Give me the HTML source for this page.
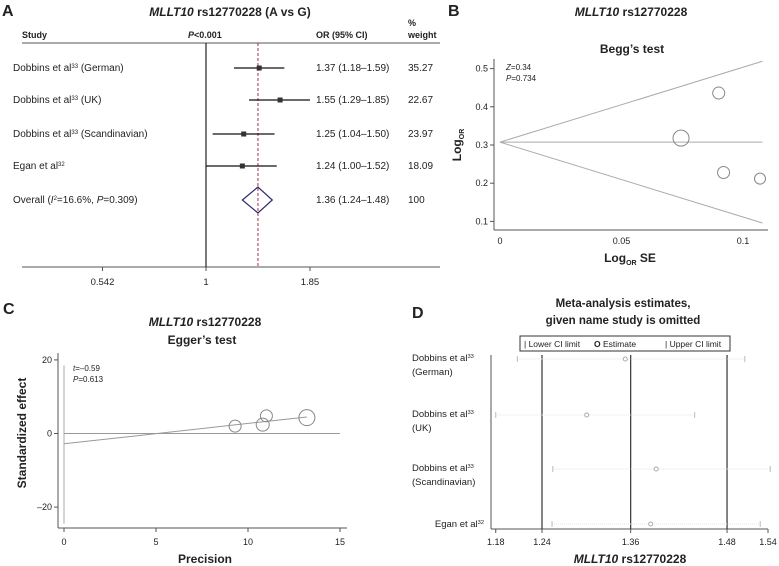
<!DOCTYPE html>
<html><head><meta charset="utf-8"><style>
body{margin:0;background:#fff}
svg{display:block;font-family:"Liberation Sans",Arial,sans-serif}
</style></head><body>
<svg id="fig" width="779" height="566" viewBox="0 0 779 566">
<g font-size="9" fill="#222">
<text x="2" y="16" font-size="16" font-weight="bold">A</text>
<text x="230" y="16" font-size="12" font-weight="bold" text-anchor="middle"><tspan font-style="italic">MLLT10</tspan> rs12770228 (A vs G)</text>
<text x="22" y="38" font-weight="bold">Study</text>
<text x="188" y="38" font-weight="bold"><tspan font-style="italic">P</tspan>&lt;0.001</text>
<text x="316" y="38" font-weight="bold">OR (95% CI)</text>
<text x="408" y="26" font-weight="bold">%</text>
<text x="408" y="38" font-weight="bold">weight</text>
<line x1="22" y1="43" x2="440" y2="43" stroke="#555"/>
<line x1="22" y1="267" x2="440" y2="267" stroke="#555"/>
</g>
<g id="gA"></g>
<g id="gB"></g>
<g id="gC"></g>
<g id="gD"></g>
</svg>
<script>
const studiesA = ["Dobbins et al|33| (German)","Dobbins et al|33| (UK)","Dobbins et al|33| (Scandinavian)","Egan et al|32|"];
const orA = [1.37,1.55,1.25,1.24];
const loA = [1.18,1.29,1.04,1.00];
const hiA = [1.59,1.85,1.50,1.52];
const weightA = ["35.27","22.67","23.97","18.09"];
const overallA = [1.36,1.24,1.48];
const ticksA = [0.542,1,1.85];

const beggSE = [0.090,0.0745,0.092,0.107];
const beggLogOR = [0.436,0.318,0.228,0.212];
const beggR = [6,8,6,5.5];
const beggPooled = 0.3075;
const beggXTicks = [0,0.05,0.1];
const beggYTicks = [0.1,0.2,0.3,0.4,0.5];

const eggPrec = [9.3,10.8,11.0,13.2];
const eggEff = [2.0,2.4,4.8,4.3];
const eggR = [6,6.5,6,8];
const eggLine = [-2.8,0.553];
const eggXTicks = [0,5,10,15];
const eggYTicks = [-20,0,20];

const studiesD = ["Dobbins et al|33|\n(German)","Dobbins et al|33|\n(UK)","Dobbins et al|33|\n(Scandinavian)","Egan et al|32|"];
const estD = [1.348,1.298,1.388,1.381];
const loD = [1.208,1.18,1.254,1.253];
const hiD = [1.503,1.438,1.536,1.523];
const overallD = [1.24,1.355,1.48];
const ticksD = [1.18,1.24,1.36,1.48,1.54];

const NS="http://www.w3.org/2000/svg";
function mk(parent,tag,attrs){const e=document.createElementNS(NS,tag);for(const k in attrs)e.setAttribute(k,attrs[k]);parent.appendChild(e);return e;}
function label(el,str,size){
  const parts=str.split("|");
  parts.forEach((p,i)=>{const t=document.createElementNS(NS,"tspan");t.textContent=p;
    if(i%2===1){t.setAttribute("font-size",size*0.6);t.setAttribute("dy",-3);}
    else if(i>0){t.setAttribute("dy",3);}
    el.appendChild(t);});
}
const FA=10;
const gA=document.getElementById("gA");
const xA=v=>206+169*Math.log(v);
const rowY=[68,100,134,166,200];
let e;
e=mk(gA,"line",{x1:206,y1:43,x2:206,y2:267,stroke:"#222","stroke-width":1.2});


e=mk(gA,"line",{x1:xA(overallA[0]),y1:43,x2:xA(overallA[0]),y2:267,stroke:"#a0304a","stroke-dasharray":"3,2"});


ticksA.forEach(t=>{
  e=mk(gA,"line",{x1:xA(t),y1:267,x2:xA(t),y2:271,stroke:"#555"});
  
  
  e=mk(gA,"text",{x:xA(t),y:285,"font-size":9.5,"text-anchor":"middle",fill:"#222"});e.textContent=String(t);
  
  
});
studiesA.forEach((s,i)=>{
  const y=rowY[i];
  e=mk(gA,"text",{x:13,y:y+3,"font-size":FA,fill:"#222"});label(e,s,FA);
  
  
  e=mk(gA,"line",{x1:xA(loA[i]),y1:y,x2:xA(hiA[i]),y2:y,stroke:"#111","stroke-width":1.3});
  
  
  e=mk(gA,"rect",{x:xA(orA[i])-2.5,y:y-2.5,width:5,height:5,fill:"#333"});
  
  
  e=mk(gA,"text",{x:316,y:y+3,"font-size":FA,fill:"#222"});e.textContent=orA[i].toFixed(2)+" ("+loA[i].toFixed(2)+"–"+hiA[i].toFixed(2)+")";
  
  
  e=mk(gA,"text",{x:408,y:y+3,"font-size":FA,fill:"#222"});e.textContent=weightA[i];
  
  
});
{const y=rowY[4];
 e=mk(gA,"text",{x:13,y:y+3,"font-size":FA,fill:"#222"});
 e.innerHTML='Overall (<tspan font-style="italic">I</tspan><tspan font-size="6" dy="-3">2</tspan><tspan dy="3">=16.6%, </tspan><tspan font-style="italic">P</tspan>=0.309)';
 
 
 const c=xA(overallA[0]);
 e=mk(gA,"polygon",{points:`${xA(overallA[1])},${y} ${c},${y-13} ${xA(overallA[2])},${y} ${c},${y+13}`,fill:"none",stroke:"#2a2a6a","stroke-width":1.2});
 
 
 e=mk(gA,"text",{x:316,y:y+3,"font-size":FA,fill:"#222"});e.textContent=overallA[0].toFixed(2)+" ("+overallA[1].toFixed(2)+"–"+overallA[2].toFixed(2)+")";
 
 
 e=mk(gA,"text",{x:408,y:y+3,"font-size":FA,fill:"#222"});e.textContent="100";
 
 
}
const gB=document.getElementById("gB");
const xB=v=>500+v*2430, yB=v=>145-(v-0.3)*382;
e=mk(gB,"text",{x:448,y:16,"font-size":16,"font-weight":"bold",fill:"#222"});e.textContent="B";


e=mk(gB,"text",{x:631,y:16,"font-size":12,"font-weight":"bold","text-anchor":"middle",fill:"#222"});e.innerHTML='<tspan font-style="italic">MLLT10</tspan> rs12770228';


e=mk(gB,"text",{x:632,y:53,"font-size":12,"font-weight":"bold","text-anchor":"middle",fill:"#222"});e.textContent="Begg’s test";


e=mk(gB,"line",{x1:494,y1:59,x2:494,y2:230,stroke:"#555"});


e=mk(gB,"line",{x1:494,y1:230,x2:768,y2:230,stroke:"#555"});


beggYTicks.forEach(t=>{
  e=mk(gB,"line",{x1:490,y1:yB(t),x2:494,y2:yB(t),stroke:"#555"});
  
  
  e=mk(gB,"text",{x:488,y:yB(t)+3,"font-size":9,"text-anchor":"end",fill:"#222"});e.textContent=String(t);
  
  
});
beggXTicks.forEach(t=>{
  e=mk(gB,"text",{x:xB(t),y:244,"font-size":9,"text-anchor":"middle",fill:"#222"});e.textContent=String(t);
  
  
});
const seMax=0.108;
[[beggPooled,beggPooled],[beggPooled,beggPooled+1.96*seMax],[beggPooled,beggPooled-1.96*seMax]].forEach(([a,b])=>{
  e=mk(gB,"line",{x1:xB(0),y1:yB(a),x2:xB(seMax),y2:yB(b),stroke:"#aaa"});
  
  
});
beggSE.forEach((s,i)=>{
  e=mk(gB,"circle",{cx:xB(s),cy:yB(beggLogOR[i]),r:beggR[i],fill:"none",stroke:"#888"});
  
  
});
e=mk(gB,"text",{x:506,y:70,"font-size":8,fill:"#222"});e.innerHTML='<tspan font-style="italic">Z</tspan>=0.34';


e=mk(gB,"text",{x:506,y:81,"font-size":8,fill:"#222"});e.innerHTML='<tspan font-style="italic">P</tspan>=0.734';


e=mk(gB,"text",{x:630,y:262,"font-size":12,"font-weight":"bold","text-anchor":"middle",fill:"#222"});e.innerHTML='Log<tspan font-size="7" dy="3">OR</tspan><tspan dy="-3"> SE</tspan>';


e=mk(gB,"text",{x:0,y:0,"font-size":12,"font-weight":"bold","text-anchor":"middle",fill:"#222",transform:"translate(461,145) rotate(-90)"});e.innerHTML='Log<tspan font-size="7" dy="3">OR</tspan>';


const gC=document.getElementById("gC");
const xC=v=>64+v*18.4, yC=v=>433.5-v*3.68;
e=mk(gC,"text",{x:3,y:314,"font-size":16,"font-weight":"bold",fill:"#222"});e.textContent="C";


e=mk(gC,"text",{x:205,y:326,"font-size":12,"font-weight":"bold","text-anchor":"middle",fill:"#222"});e.innerHTML='<tspan font-style="italic">MLLT10</tspan> rs12770228';


e=mk(gC,"text",{x:202,y:344,"font-size":12,"font-weight":"bold","text-anchor":"middle",fill:"#222"});e.textContent="Egger’s test";


e=mk(gC,"line",{x1:58,y1:353,x2:58,y2:528,stroke:"#555"});


e=mk(gC,"line",{x1:58,y1:528,x2:347,y2:528,stroke:"#555"});


eggYTicks.forEach(t=>{
  e=mk(gC,"line",{x1:54,y1:yC(t),x2:58,y2:yC(t),stroke:"#555"});
  
  
  e=mk(gC,"text",{x:52,y:yC(t)+3,"font-size":9,"text-anchor":"end",fill:"#222"});e.textContent=t<0?"–"+Math.abs(t):String(t);
  
  
});
eggXTicks.forEach(t=>{
  e=mk(gC,"line",{x1:xC(t),y1:528,x2:xC(t),y2:532,stroke:"#555"});
  
  
  e=mk(gC,"text",{x:xC(t),y:545,"font-size":9,"text-anchor":"middle",fill:"#222"});e.textContent=String(t);
  
  
});
e=mk(gC,"line",{x1:xC(0),y1:yC(18.5),x2:xC(0),y2:yC(-24.5),stroke:"#aaa"});


e=mk(gC,"line",{x1:xC(0),y1:yC(0),x2:xC(15),y2:yC(0),stroke:"#999"});


e=mk(gC,"line",{x1:xC(0),y1:yC(eggLine[0]),x2:xC(13.2),y2:yC(eggLine[0]+eggLine[1]*13.2),stroke:"#999"});


eggPrec.forEach((p,i)=>{
  e=mk(gC,"circle",{cx:xC(p),cy:yC(eggEff[i]),r:eggR[i],fill:"none",stroke:"#888"});
  
  
});
e=mk(gC,"text",{x:73,y:371,"font-size":8,fill:"#222"});e.innerHTML='<tspan font-style="italic">t</tspan>=–0.59';


e=mk(gC,"text",{x:73,y:382,"font-size":8,fill:"#222"});e.innerHTML='<tspan font-style="italic">P</tspan>=0.613';


e=mk(gC,"text",{x:205,y:563,"font-size":12,"font-weight":"bold","text-anchor":"middle",fill:"#222"});e.textContent="Precision";


e=mk(gC,"text",{x:0,y:0,"font-size":12,"font-weight":"bold","text-anchor":"middle",fill:"#222",transform:"translate(26,433) rotate(-90)"});e.textContent="Standardized effect";


const gD=document.getElementById("gD");
const xD=v=>542+(v-1.24)*771;
const rowD=[359,415,469,524];
const FD=9.5;
e=mk(gD,"text",{x:412,y:318,"font-size":16,"font-weight":"bold",fill:"#222"});e.textContent="D";


e=mk(gD,"text",{x:623,y:307,"font-size":11.5,"font-weight":"bold","text-anchor":"middle",fill:"#222"});e.textContent="Meta-analysis estimates,";


e=mk(gD,"text",{x:623,y:324,"font-size":11.5,"font-weight":"bold","text-anchor":"middle",fill:"#222"});e.textContent="given name study is omitted";


e=mk(gD,"rect",{x:520,y:336,width:210,height:15,fill:"none",stroke:"#333"});


e=mk(gD,"text",{x:524,y:347,"font-size":8.5,fill:"#222"});e.textContent="| Lower CI limit";


e=mk(gD,"text",{x:594,y:347,"font-size":8.5,fill:"#222"});e.innerHTML='<tspan font-weight="bold">O</tspan> Estimate';


e=mk(gD,"text",{x:665,y:347,"font-size":8.5,fill:"#222"});e.textContent="| Upper CI limit";


e=mk(gD,"line",{x1:491,y1:355,x2:491,y2:529,stroke:"#555"});


e=mk(gD,"line",{x1:491,y1:529,x2:768,y2:529,stroke:"#555"});


overallD.forEach(v=>{
  e=mk(gD,"line",{x1:xD(v),y1:355,x2:xD(v),y2:529,stroke:"#333","stroke-width":1.2});
  
  
});
ticksD.forEach(t=>{
  const x=Math.max(491,Math.min(768,t===1.36?xD(1.355):xD(t)));
  e=mk(gD,"line",{x1:x,y1:529,x2:x,y2:533,stroke:"#555"});
  
  
  e=mk(gD,"text",{x:x,y:545,"font-size":9,"text-anchor":"middle",fill:"#222"});e.textContent=t.toFixed(2);
  
  
});
studiesD.forEach((s,i)=>{
  const y=rowD[i];
  const lines=s.split("\n");
  if(lines.length===1){
    e=mk(gD,"text",{x:484,y:y+3,"font-size":FD,"text-anchor":"end",fill:"#222"});label(e,lines[0],FD);
  } else {
    e=mk(gD,"text",{x:412,y:y+2,"font-size":FD,fill:"#222"});label(e,lines[0],FD);
    
    
    e=mk(gD,"text",{x:412,y:y+16,"font-size":FD,fill:"#222"});e.textContent=lines[1];
  }
  
  
  const lx=Math.max(493,xD(loD[i]));
  e=mk(gD,"line",{x1:lx,y1:y,x2:xD(hiD[i]),y2:y,stroke:"#e4e4e4","stroke-dasharray":"1,1"});
  
  
  e=mk(gD,"line",{x1:lx,y1:y-3,x2:lx,y2:y+3,stroke:"#bbb"});
  
  
  e=mk(gD,"line",{x1:xD(hiD[i]),y1:y-3,x2:xD(hiD[i]),y2:y+3,stroke:"#bbb"});
  
  
  e=mk(gD,"circle",{cx:xD(estD[i]),cy:y,r:2,fill:"#fff",stroke:"#aaa"});
  
  
});
e=mk(gD,"text",{x:630,y:563,"font-size":12,"font-weight":"bold","text-anchor":"middle",fill:"#222"});e.innerHTML='<tspan font-style="italic">MLLT10</tspan> rs12770228';


</script>
</body></html>
